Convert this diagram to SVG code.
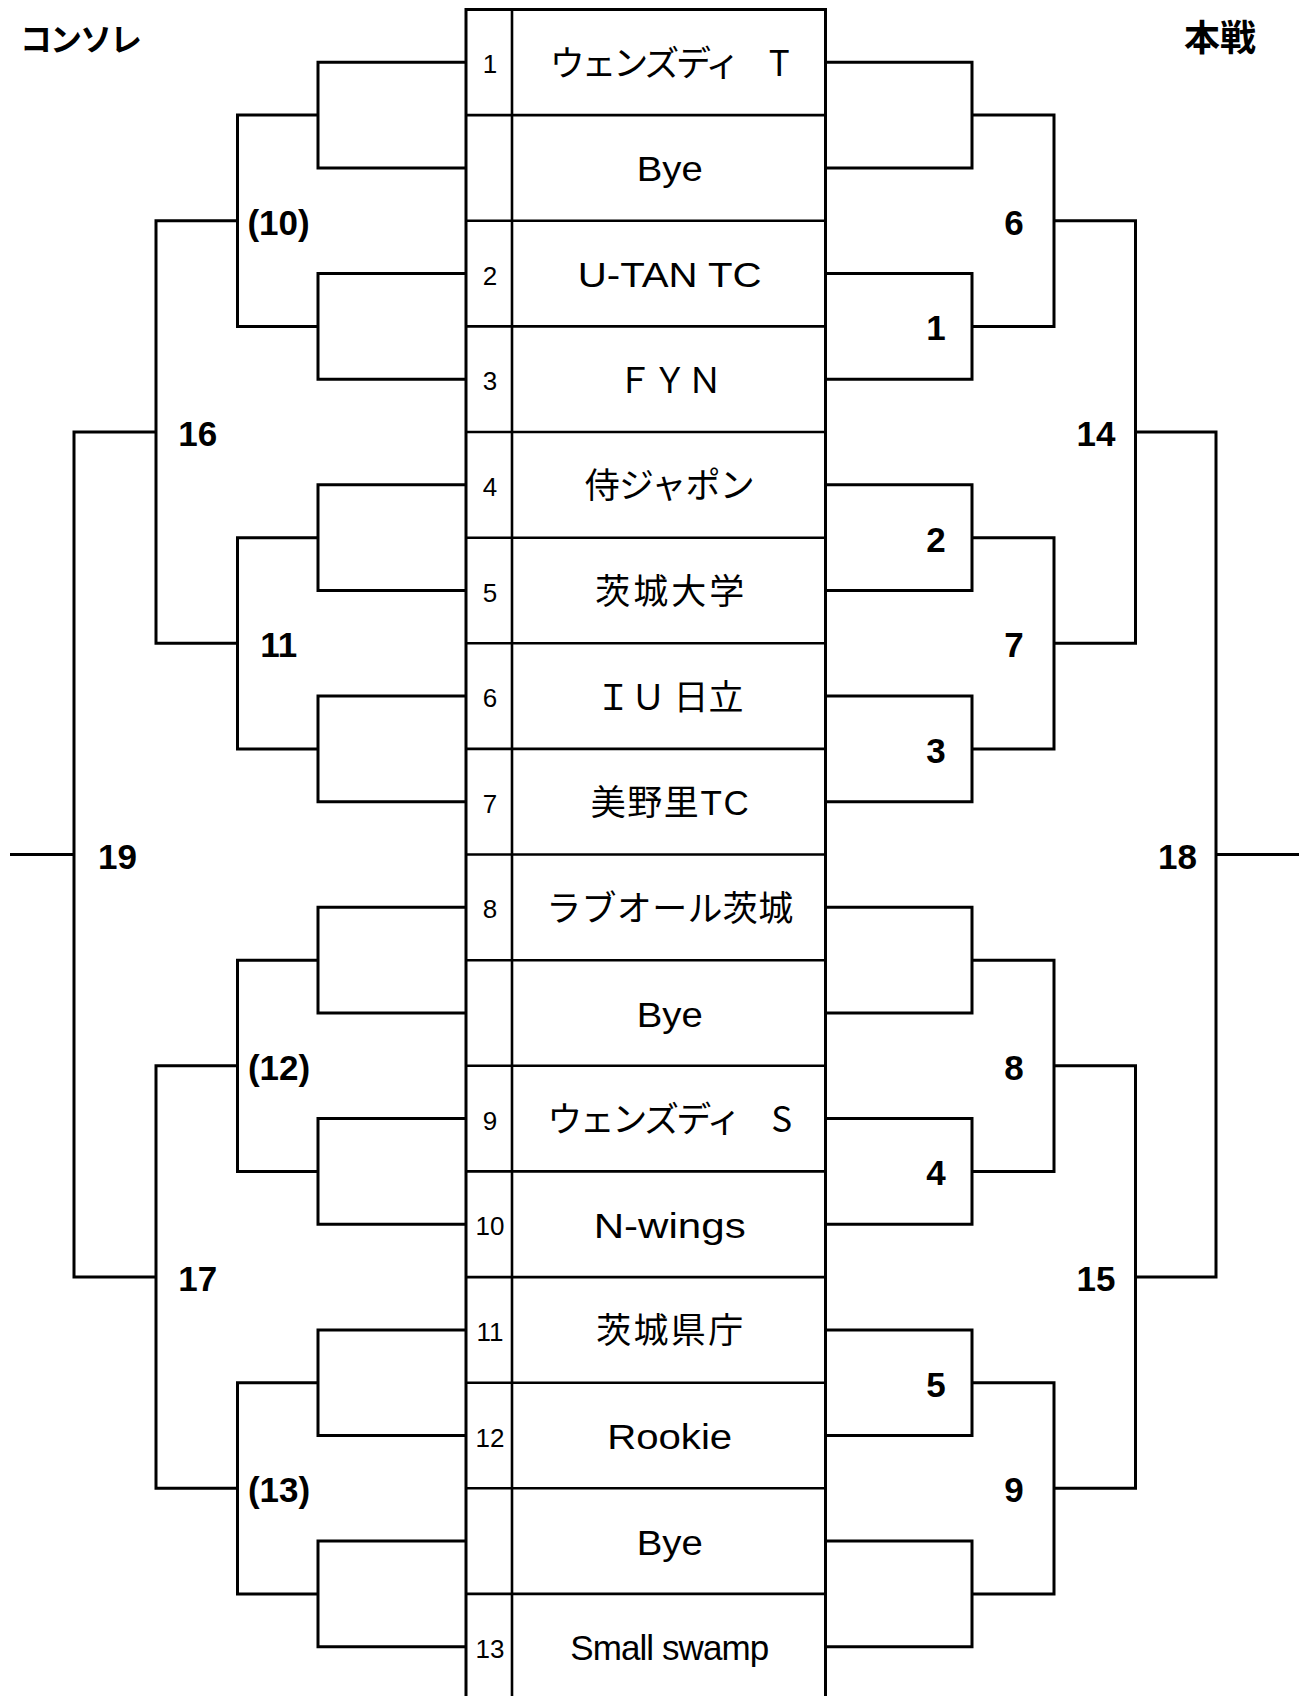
<svg xmlns="http://www.w3.org/2000/svg" width="1303" height="1696" viewBox="0 0 1303 1696">
<style>
.ln{fill:none;stroke:#000;stroke-width:3;stroke-linejoin:miter;stroke-linecap:butt}
.grid{fill:none;stroke:#000;stroke-width:2.6}
.lbl{font-family:"Liberation Sans","Noto Sans CJK JP",sans-serif;font-weight:bold;font-size:35px;text-anchor:middle;fill:#000}
.num{font-family:"Liberation Sans",sans-serif;font-size:26px;text-anchor:middle;fill:#000}
.nm{font-family:"Liberation Sans","Noto Sans CJK JP",sans-serif;font-size:35px;text-anchor:middle;fill:#000}
.jp{font-family:"Noto Sans CJK JP",sans-serif;font-size:35px;text-anchor:middle;fill:#000}
.hd{font-family:"Noto Sans CJK JP",sans-serif;font-weight:bold;fill:#000}
</style>
<rect width="1303" height="1696" fill="#fff"/>
<g id="headers">
<text class="hd" x="20" y="51" font-size="32" textLength="122" lengthAdjust="spacing">コンソレ</text>
<text class="hd" x="1184" y="50.5" font-size="36">本戦</text>
</g>
<g id="frame">
<path class="ln" d="M466,1700 V9.5 H825.5 V1700"/>
<path class="grid" d="M512,9.5 V1700"/>
<path class="grid" d="M466,115.1H825.5M466,220.8H825.5M466,326.4H825.5M466,432H825.5M466,537.7H825.5M466,643.3H825.5M466,748.9H825.5M466,854.5H825.5M466,960.2H825.5M466,1065.8H825.5M466,1171.4H825.5M466,1277.1H825.5M466,1382.7H825.5M466,1488.3H825.5M466,1593.9H825.5"/>
</g>
<g id="entries">
<g id="row1"><text class="num" x="490" y="73.3">1</text><text class="jp" x="669.7" y="75.8" textLength="240" lengthAdjust="spacing">ウェンズディ　T</text></g>
<g id="row2"><text class="nm" x="669.7" y="181.4" textLength="66" lengthAdjust="spacingAndGlyphs">Bye</text></g>
<g id="row3"><text class="num" x="490" y="284.6">2</text><text class="nm" x="669.7" y="287.1" textLength="184" lengthAdjust="spacingAndGlyphs">U-TAN TC</text></g>
<g id="row4"><text class="num" x="490" y="390.2">3</text><text class="jp" x="669.7" y="392.7">ＦＹＮ</text></g>
<g id="row5"><text class="num" x="490" y="495.8">4</text><text class="jp" x="669.7" y="498.3" textLength="170" lengthAdjust="spacing">侍ジャポン</text></g>
<g id="row6"><text class="num" x="490" y="601.5">5</text><text class="jp" x="669.7" y="604" textLength="149" lengthAdjust="spacing">茨城大学</text></g>
<g id="row7"><text class="num" x="490" y="707.1">6</text><text class="jp" x="669.7" y="709.6">ＩＵ 日立</text></g>
<g id="row8"><text class="num" x="490" y="812.7">7</text><text class="nm" x="669.7" y="815.2" textLength="158" lengthAdjust="spacing">美野里TC</text></g>
<g id="row9"><text class="num" x="490" y="918.3">8</text><text class="jp" x="669.7" y="920.8" textLength="247" lengthAdjust="spacing">ラブオール茨城</text></g>
<g id="row10"><text class="nm" x="669.7" y="1026.5" textLength="66" lengthAdjust="spacingAndGlyphs">Bye</text></g>
<g id="row11"><text class="num" x="490" y="1129.6">9</text><text class="jp" x="669.7" y="1132.1" textLength="245" lengthAdjust="spacing">ウェンズディ　S</text></g>
<g id="row12"><text class="num" x="490" y="1235.2">10</text><text class="nm" x="669.7" y="1237.7" textLength="152" lengthAdjust="spacingAndGlyphs">N-wings</text></g>
<g id="row13"><text class="num" x="490" y="1340.9">11</text><text class="jp" x="669.7" y="1343.4" textLength="147" lengthAdjust="spacing">茨城県庁</text></g>
<g id="row14"><text class="num" x="490" y="1446.5">12</text><text class="nm" x="669.7" y="1449" textLength="125" lengthAdjust="spacingAndGlyphs">Rookie</text></g>
<g id="row15"><text class="nm" x="669.7" y="1554.6" textLength="66" lengthAdjust="spacingAndGlyphs">Bye</text></g>
<g id="row16"><text class="num" x="490" y="1657.7">13</text><text class="nm" x="669.7" y="1660.2" font-size="33" textLength="199" lengthAdjust="spacing">Small swamp</text></g>
</g>
<g id="connectors">
<path class="ln" d="M466,62.3H318V167.9H466M466,273.6H318V379.2H466M466,484.8H318V590.5H466M466,696.1H318V801.7H466M466,907.3H318V1013H466M466,1118.6H318V1224.2H466M466,1329.9H318V1435.5H466M466,1541.1H318V1646.7H466"/>
<path class="ln" d="M318,115.1H237.5V326.4H318M318,537.7H237.5V748.9H318M318,960.2H237.5V1171.4H318M318,1382.7H237.5V1593.9H318"/>
<path class="ln" d="M237.5,220.8H156V643.3H237.5M237.5,1065.8H156V1488.3H237.5"/>
<path class="ln" d="M156,432H74V1277.1H156M74,854.5H10"/>
<path class="ln" d="M825.5,62.3H972V167.9H825.5M825.5,273.6H972V379.2H825.5M825.5,484.8H972V590.5H825.5M825.5,696.1H972V801.7H825.5M825.5,907.3H972V1013H825.5M825.5,1118.6H972V1224.2H825.5M825.5,1329.9H972V1435.5H825.5M825.5,1541.1H972V1646.7H825.5"/>
<path class="ln" d="M972,115.1H1054V326.4H972M972,537.7H1054V748.9H972M972,960.2H1054V1171.4H972M972,1382.7H1054V1593.9H972"/>
<path class="ln" d="M1054,220.8H1135.5V643.3H1054M1054,1065.8H1135.5V1488.3H1054"/>
<path class="ln" d="M1135.5,432H1216V1277.1H1135.5M1216,854.5H1299"/>
</g>
<g id="match-labels">
<text class="lbl" x="278.5" y="234.8">(10)</text>
<text class="lbl" x="197.8" y="446">16</text>
<text class="lbl" x="278.8" y="657.3">11</text>
<text class="lbl" x="117.5" y="868.5">19</text>
<text class="lbl" x="279" y="1079.8">(12)</text>
<text class="lbl" x="197.8" y="1291.1">17</text>
<text class="lbl" x="279" y="1502.3">(13)</text>
<text class="lbl" x="1014" y="234.8">6</text>
<text class="lbl" x="936" y="340.4">1</text>
<text class="lbl" x="1096" y="446">14</text>
<text class="lbl" x="936" y="551.7">2</text>
<text class="lbl" x="1014" y="657.3">7</text>
<text class="lbl" x="936" y="762.9">3</text>
<text class="lbl" x="1177.5" y="868.5">18</text>
<text class="lbl" x="1014" y="1079.8">8</text>
<text class="lbl" x="936" y="1185.4">4</text>
<text class="lbl" x="1096" y="1291.1">15</text>
<text class="lbl" x="936" y="1396.7">5</text>
<text class="lbl" x="1014" y="1502.3">9</text>
</g>
</svg>
